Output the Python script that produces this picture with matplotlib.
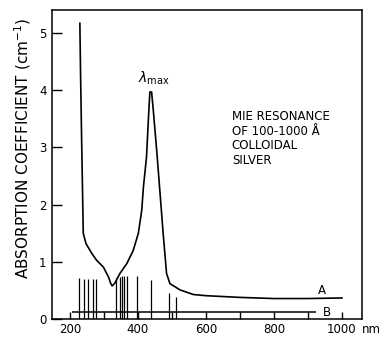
import numpy as np
import matplotlib
matplotlib.use('Agg')
import matplotlib.pyplot as plt

# curve A: absorption of colloidal silver
wavelength = [229, 231, 234, 239, 247, 264, 278, 298, 313, 320, 324, 332, 347, 367, 386,
              401, 411, 416, 425, 432, 435, 440, 445, 455, 465, 474, 484, 494, 524, 563,
              600, 700, 800, 900, 1000]
absorption = [5.17, 4.3, 3.2, 1.50, 1.32, 1.15, 1.03, 0.91, 0.74, 0.62, 0.58, 0.63, 0.80, 0.97, 1.20,
              1.50, 1.90, 2.31, 2.83, 3.65, 3.97, 3.97, 3.65, 2.95, 2.19, 1.50, 0.80, 0.62, 0.51, 0.43,
              0.41, 0.38, 0.36, 0.36, 0.37]

# spectral lines and their heights
line_nm = [227, 241, 254, 267, 276, 334, 347, 354, 360, 367, 396, 437, 490, 512]
line_height = [0.72, 0.71, 0.71, 0.70, 0.70, 0.72, 0.74, 0.75, 0.75, 0.75, 0.75, 0.68, 0.45, 0.38]

# level B
b_start, b_end, b_level = 205, 925, 0.12

x_ticks = [200, 300, 400, 500, 600, 700, 800, 900, 1000]
x_labels = ['200', '', '400', '', '600', '', '800', '', '1000']
y_ticks = [0, 1, 2, 3, 4, 5]

fig = plt.figure(figsize=(3.88, 3.37), dpi=100)
ax = fig.add_axes([0.134, 0.053, 0.799, 0.917])

ax.plot(wavelength, absorption, color='black', lw=1.2)
ax.vlines(line_nm, 0, line_height, color='black', lw=0.9)
ax.hlines(b_level, b_start, b_end, color='black', lw=1.1)

ax.text(929, 0.50, 'A', fontsize=8.5, ha='left', va='center')
ax.text(944, 0.12, 'B', fontsize=8.5, ha='left', va='center')
ax.text(447, 4.06, r'$\lambda_{\rm max}$', fontsize=10, ha='center', va='bottom')
ax.text(676, 3.65, 'MIE RESONANCE\nOF 100-1000 Å\nCOLLOIDAL\nSILVER',
        fontsize=8.5, ha='left', va='top', linespacing=1.15)

ax.set_xlim(147, 1059)
ax.set_ylim(0, 5.4)
ax.set_xticks(x_ticks)
ax.set_xticklabels(x_labels)
ax.set_yticks(y_ticks)
ax.tick_params(axis='x', direction='in', length=5, width=1, labelsize=8.5, pad=3)
ax.tick_params(axis='y', direction='in', length=7, width=1, labelsize=8.5, pad=4)
for s in ax.spines.values():
    s.set_linewidth(1.1)

ax.annotate('nm', xy=(1000, 0), xycoords=('data', 'axes fraction'), xytext=(14, -3),
            textcoords='offset points', ha='left', va='top', fontsize=8.5,
            annotation_clip=False)

ax.set_ylabel(r'ABSORPTION COEFFICIENT (cm$^{-1}$)', fontsize=11)
ax.yaxis.set_label_coords(-0.06, 0.553)

plt.savefig('out.png', dpi=100)
